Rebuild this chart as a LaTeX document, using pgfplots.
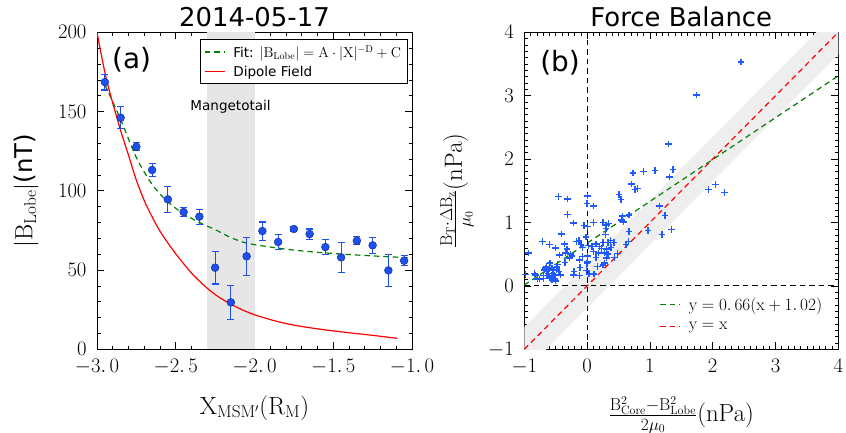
\documentclass[border=0pt]{standalone}
\usepackage[no-math]{fontspec}
\setmainfont{DejaVu Sans}
\usepackage{pgfplots}
\pgfplotsset{compat=1.18}
\definecolor{ptblue}{RGB}{30,80,240}
\definecolor{sctblue}{RGB}{30,90,255}
\definecolor{mplgreen}{RGB}{0,128,0}
\definecolor{shade}{RGB}{230,230,230}
\definecolor{bandgray}{RGB}{238,238,238}
\pgfplotsset{
  myaxis/.style={
    scale only axis,
    axis line style={line width=0.8bp},
    tick align=inside,
    major tick length=7bp,
    minor tick length=3.5bp,
    tick style={black, line width=0.6bp},
    tick label style={font=\fontsize{21}{24}\selectfont},
    xticklabel style={yshift=-6bp},
    yticklabel style={xshift=-7bp},
    title style={font=\fontsize{26}{30}\selectfont, at={(0.5,1)}, anchor=south, yshift=-4bp},
    label style={font=\fontsize{24.5}{28}\selectfont},
  }
}
\pgfplotstableread{
x y e
-2.95 168.6 5.0
-2.85 146.1 7.0
-2.75 127.8 2.6
-2.65 113.1 4.2
-2.55 94.6 8.1
-2.45 86.6 3.0
-2.35 83.7 4.7
-2.25 51.5 10.3
-2.15 29.6 10.8
-2.05 58.7 12.1
-1.95 74.6 5.7
-1.85 67.7 4.7
-1.75 75.9 1.8
-1.65 72.7 3.2
-1.55 64.5 4.7
-1.45 58.0 9.5
-1.35 68.5 2.4
-1.25 65.6 5.0
-1.15 49.8 10.1
-1.05 55.9 3.0
}\lobedata
\pgfplotstableread{
x y
-3.00 200
-2.939 169.9
-2.854 139.4
-2.80 122.5
-2.753 107.5
-2.707 95.5
-2.665 86.5
-2.60 74.5
-2.517 62.5
-2.45 54.0
-2.39 47.0
-2.30 38.5
-2.23 33.2
-2.16 29.0
-2.08 25.0
-2.00 21.8
-1.88 18.2
-1.758 15.4
-1.60 12.9
-1.441 10.9
-1.25 8.8
-1.093 6.9
}\dipole
\pgfplotstableread{
x y
-2.95 167
-2.85 145
-2.75 121
-2.65 104
-2.55 93
-2.45 85.5
-2.35 80
-2.25 75.5
-2.15 70.5
-2.05 67
-1.90 64.5
-1.75 62.6
-1.60 61.2
-1.45 60.1
-1.30 59.2
-1.15 58.4
-1.00 57.7
}\fitdata
\pgfplotstableread{
x y
2.45 3.53
1.74 3.01
1.30 2.24
0.73 1.78
0.90 1.80
1.08 1.82
1.37 1.84
1.31 1.72
0.71 1.61
0.76 1.52
0.80 1.54
0.51 1.44
0.54 1.36
1.93 1.52
2.04 1.60
2.19 1.47
-0.46 1.41
-0.31 1.37
0.01 1.42
0.00 1.30
0.10 1.26
1.15 1.26
1.24 1.11
0.56 1.10
0.67 1.12
0.55 1.04
0.58 1.01
-0.31 1.13
-0.22 0.99
-0.05 0.95
0.01 0.94
0.10 1.00
0.25 1.00
0.31 0.96
0.34 0.98
0.30 0.91
0.29 0.81
0.67 0.86
0.97 0.87
1.19 0.81
1.34 0.89
-0.41 0.82
-0.71 0.70
-0.60 0.65
-0.50 0.60
-0.36 0.66
-0.32 0.58
-0.17 0.70
-0.13 0.72
-0.02 0.77
-0.10 0.65
-0.07 0.61
0.02 0.64
0.08 0.62
0.14 0.66
0.20 0.62
0.25 0.68
0.33 0.68
0.37 0.72
0.43 0.68
0.62 0.65
0.66 0.70
0.48 0.51
0.44 0.45
0.23 0.59
0.31 0.58
0.38 0.61
0.10 0.54
0.18 0.52
0.28 0.52
0.33 0.50
0.14 0.45
0.31 0.44
0.01 0.47
0.01 0.38
0.00 0.35
-0.12 0.41
-0.07 0.46
-0.24 0.47
-0.28 0.44
-0.34 0.52
-0.26 0.50
-0.44 0.49
-0.93 0.52
0.25 0.33
0.28 0.36
0.17 0.31
0.11 0.19
0.03 0.19
-0.01 0.24
-0.11 0.29
-0.12 0.16
-0.21 0.23
-0.22 0.17
-0.42 0.17
-0.35 0.37
-0.47 0.34
-0.49 0.25
-0.54 0.20
-0.57 0.16
-0.51 0.11
-0.59 0.36
-0.65 0.31
-0.68 0.25
-0.61 0.25
-0.62 0.20
-0.55 0.26
-0.69 0.16
-0.76 0.11
-0.84 0.20
-0.82 0.17
-0.79 0.11
-0.58 0.12
-0.69 0.12
-0.53 0.17
-0.64 0.23
-0.56 0.28
-0.48 0.30
-0.98 0.18
-0.52 0.16
-0.45 0.23
-0.66 0.28
-0.60 0.14
-0.56 0.09
-0.50 0.08
}\scatterdata
\begin{document}
\begin{tikzpicture}
\useasboundingbox (0bp,0bp) rectangle (846bp,433bp);
% ---------------- panel (a)
\begin{axis}[myaxis,
  at={(97bp,83.7bp)}, anchor=south west,
  width=315bp, height=317bp,
  xmin=-3, xmax=-1, ymin=0, ymax=200,
  xtick={-3,-2.5,-2,-1.5,-1},
  xticklabels={$-3.\,0$,$-2.\,5$,$-2.\,0$,$-1.\,5$,$-1.\,0$},
  ytick={0,50,100,150,200},
  minor x tick num=4, minor y tick num=4,
  title={2014-05-17},
  xlabel={$\mathrm{X}_{\mathrm{MSM'}}(\mathrm{R}_{\mathrm{M}})$},
  ylabel={$|\mathrm{B}_{\mathrm{Lobe}}|$(nT)},
  xlabel style={at={(axis description cs:0.5,-0.185)}, anchor=center},
  ylabel style={at={(axis description cs:-0.225,0.5)}, anchor=center},
  legend style={at={(axis description cs:0.985,0.979)}, anchor=north east,
    font=\fontsize{13.6}{16}\selectfont, draw=black, line width=0.6bp, fill=white,
    inner xsep=4bp, inner ysep=4bp, row sep=3bp, cells={anchor=west}},
  legend image code/.code={\draw[#1] (0bp,0bp) -- (20bp,0bp); \path (26bp,0bp);},
]
\addplot[fill=shade, draw=none, forget plot] coordinates {(-2.3,0) (-2.3,200) (-2.0,200) (-2.0,0)} -- cycle;
\addplot[mplgreen, line width=1.2bp, dash pattern=on 5.5bp off 4bp, smooth] table[x=x,y=y] {\fitdata};
\addlegendentry{Fit: $|\mathrm{B}_{\mathrm{Lobe}}|=\mathrm{A}\cdot|\mathrm{X}|^{-\mathrm{D}}+\mathrm{C}$}
\addplot[red, line width=1.2bp, smooth] table[x=x,y=y] {\dipole};
\addlegendentry{Dipole Field}
\addplot[forget plot, only marks, mark=*, mark size=3.9bp, color=ptblue,
  mark options={fill=ptblue, draw=ptblue!60!black, line width=0.5bp},
  error bars/.cd, y dir=both, y explicit,
  error bar style={line width=1.1bp, ptblue},
  error mark options={rotate=90, line width=1.1bp, mark size=3.5bp, ptblue}]
  table[x=x, y=y, y error=e] {\lobedata};
\node[font=\fontsize{28}{32}\selectfont] at (axis description cs:0.11,0.913) {(a)};
\node[font=\fontsize{13.6}{16}\selectfont] at (axis description cs:0.424,0.764) {Mangetotail};
\end{axis}
% ---------------- panel (b)
\begin{axis}[myaxis,
  at={(524.3bp,83.7bp)}, anchor=south west,
  width=314bp, height=317bp,
  xmin=-1, xmax=4, ymin=-1, ymax=4,
  xtick={-1,0,1,2,3,4}, ytick={-1,0,1,2,3,4},
  minor x tick num=9, minor y tick num=9,
  title={Force Balance},
  xlabel={$\frac{\mathrm{B}^2_{\mathrm{Core}}-\mathrm{B}^2_{\mathrm{Lobe}}}{2\mu_0}(\mathrm{nPa})$},
  xlabel style={at={(axis description cs:0.5,-0.207)}, anchor=center},
  legend style={at={(axis description cs:0.965,0.045)}, anchor=south east,
    font=\fontsize{16}{19}\selectfont, draw=none, fill=none, row sep=6bp, cells={anchor=west}},
  legend image code/.code={\draw[#1] (0bp,0bp) -- (20bp,0bp); \path (26bp,0bp);},
]
\addlegendimage{mplgreen, line width=1.2bp, dash pattern=on 5.5bp off 4bp}
\addlegendentry{$\mathrm{y=0.\,66(x+1.\,02)}$}
\addlegendimage{red, line width=1.2bp, dash pattern=on 5.5bp off 4bp}
\addlegendentry{$\mathrm{y=x}$}
\addplot[fill=bandgray, draw=none, forget plot] coordinates {(-2,-2.35) (5,4.65) (5,5.35) (-2,-1.65)} -- cycle;
\addplot[black, line width=1bp, dash pattern=on 5.5bp off 4bp, forget plot] coordinates {(0,-1) (0,4)};
\addplot[black, line width=1bp, dash pattern=on 5.5bp off 4bp, forget plot] coordinates {(-1,0) (4,0)};
\addplot[only marks, mark=+, mark size=3.3bp, sctblue, mark options={line width=1.4bp}, forget plot] table[x=x,y=y] {\scatterdata};
\addplot[mplgreen, line width=1.2bp, dash pattern=on 5.5bp off 4bp, forget plot] coordinates {(-1,0.0132) (4,3.3132)};
\addplot[red, line width=1.2bp, dash pattern=on 5.5bp off 4bp, forget plot] coordinates {(-1,-1) (4,4)};
\node[font=\fontsize{28}{32}\selectfont] at (axis description cs:0.114,0.903) {(b)};
\end{axis}
\node[rotate=90, font=\fontsize{24.5}{28}\selectfont, anchor=center] at (457bp,242.2bp)
  {$\frac{\mathrm{B}_{\mathrm{T}}\cdot\Delta\mathrm{B}_{\mathrm{z}}}{\mu_0}(\mathrm{nPa})$};
\end{tikzpicture}
\end{document}
